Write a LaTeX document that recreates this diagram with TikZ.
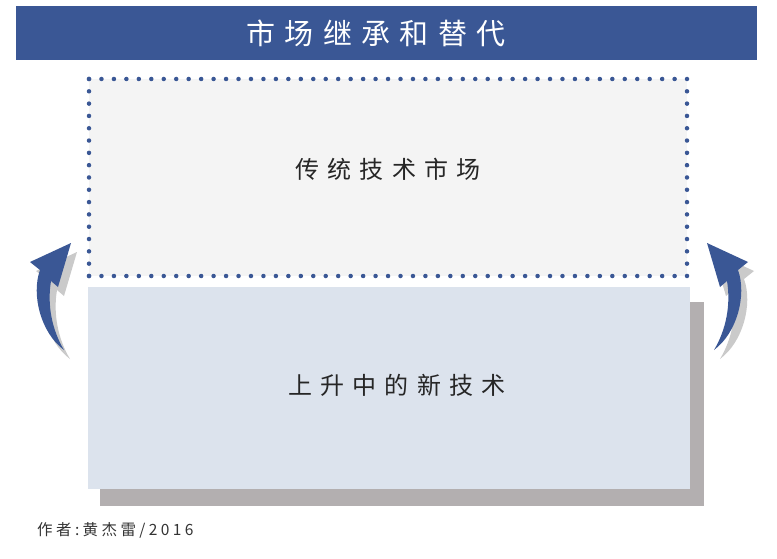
\documentclass[tikz,border=0pt]{standalone}
\usepackage{fontspec}
\newfontfamily\cjktitle[LetterSpace=32]{Noto Sans CJK SC}
\newfontfamily\cjkbody[LetterSpace=34]{Noto Sans CJK SC}
\newfontfamily\cjknote[LetterSpace=22]{Noto Sans CJK SC}
\definecolor{barblue}{HTML}{3A5795}
\definecolor{oldfill}{HTML}{F4F4F4}
\definecolor{newfill}{HTML}{DCE3ED}
\definecolor{boxshadow}{HTML}{B3AFB0}
\definecolor{arrowshadow}{HTML}{CACACA}
\begin{document}
\begin{tikzpicture}[x=1pt,y=-1pt,line join=round,line cap=round]
			\def\arrowshape{(64,350) .. controls (41,333) and (31,295) .. (40,270) -- (30,262) -- (71,243) -- (58,287) -- (51,281) .. controls (47,305) and (52,330) .. (64,350)}
			\def\dotgap{12.46}
			\useasboundingbox (0,0) rectangle (777,559);
			% title bar
			\fill[barblue] (16,6) rectangle (757,60);
			\node[text=white,inner sep=0pt,font=\cjktitle\fontsize{29}{29}\selectfont] (title) at (376,33) {市场继承和替代};
			% old market, dotted frame
			\fill[oldfill] (89,79) rectangle (687,276);
			\draw[barblue,line width=4.5pt,dash pattern=on 0pt off \dotgap pt] (89,79)--(687,79);
			\draw[barblue,line width=4.5pt,dash pattern=on 0pt off \dotgap pt] (89,276)--(687,276);
			\draw[barblue,line width=4.5pt,dash pattern=on 0pt off 12.31pt] (89,79)--(89,276);
			\draw[barblue,line width=4.5pt,dash pattern=on 0pt off 12.31pt] (687,79)--(687,276);
			\node[text=black!85,inner sep=0pt,font=\cjkbody\fontsize{24}{24}\selectfont] (old) at (388,169) {传统技术市场};
			% new technology with shadow
			\fill[boxshadow] (100,302) rectangle (704,506);
			\fill[newfill] (88,287) rectangle (690,489);
			\node[text=black!85,inner sep=0pt,font=\cjkbody\fontsize{24}{24}\selectfont] (new) at (397,385) {上升中的新技术};
			% curved arrows
			\fill[arrowshadow,shift={(6,9)}] \arrowshape;
			\fill[barblue] \arrowshape;
			\begin{scope}[shift={(778,0)},xscale=-1]
				\fill[arrowshadow,shift={(-6,9)}] \arrowshape;
				\fill[barblue] \arrowshape;
			\end{scope}
			\node[anchor=west,text=black!80,inner sep=0pt,font=\cjknote\fontsize{15.5}{15.5}\selectfont] (author) at (37,530) {作者:黄杰雷/2016};
	\end{tikzpicture}
\end{document}
